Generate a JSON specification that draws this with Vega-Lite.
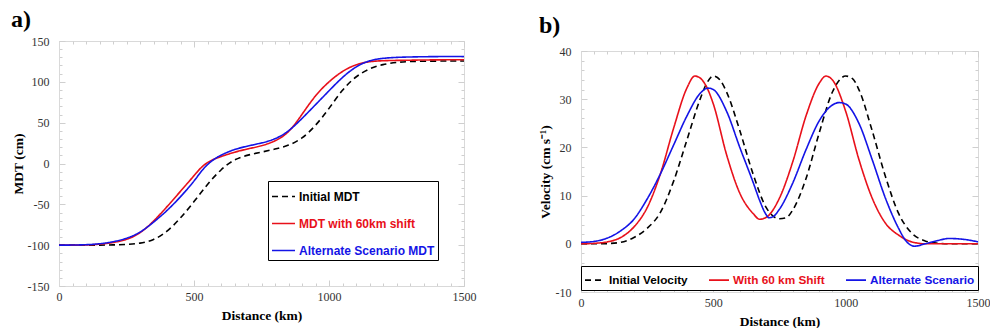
{
  "$schema": "https://vega.github.io/schema/vega-lite/v6.json",
  "background": "white",
  "padding": {"left": 10, "top": 7, "right": 0, "bottom": 0},
  "spacing": 60,
  "config": {
    "view": {"stroke": "#d9d9d9", "strokeWidth": 1},
    "axis": {
      "labelFont": "Liberation Serif", "labelFontSize": 12, "labelColor": "#333",
      "titleFont": "Liberation Serif", "titleFontSize": 13.5, "titleFontWeight": "bold", "titleColor": "#000",
      "domainColor": "#d9d9d9", "tickColor": "#cfcfcf", "grid": false, "labelFlush": false, "labelOverlap": false, "labelBound": false
    },
    "legend": {
      "labelFont": "Liberation Sans", "labelFontWeight": "bold", "labelLimit": 400,
      "symbolType": "stroke", "symbolStrokeWidth": 1.6, "strokeColor": "#000", "fillColor": "#fff", "title": null
    }
  },
  "resolve": {"scale": {"color": "independent", "strokeDash": "independent"}},
  "datasets": {
    "mdt": [
      {"d":0,"v":-100,"s":"Initial MDT"},{"d":50,"v":-100,"s":"Initial MDT"},{"d":100,"v":-100,"s":"Initial MDT"},{"d":150,"v":-100,"s":"Initial MDT"},{"d":200,"v":-99.7,"s":"Initial MDT"},{"d":250,"v":-99.2,"s":"Initial MDT"},{"d":300,"v":-98,"s":"Initial MDT"},{"d":350,"v":-94,"s":"Initial MDT"},{"d":400,"v":-84,"s":"Initial MDT"},{"d":450,"v":-67,"s":"Initial MDT"},{"d":500,"v":-47,"s":"Initial MDT"},{"d":550,"v":-25,"s":"Initial MDT"},{"d":600,"v":-7,"s":"Initial MDT"},{"d":650,"v":5.5,"s":"Initial MDT"},{"d":700,"v":10.5,"s":"Initial MDT"},{"d":750,"v":14,"s":"Initial MDT"},{"d":800,"v":17.5,"s":"Initial MDT"},{"d":850,"v":22,"s":"Initial MDT"},{"d":900,"v":30,"s":"Initial MDT"},{"d":950,"v":46,"s":"Initial MDT"},{"d":1000,"v":67,"s":"Initial MDT"},{"d":1050,"v":91,"s":"Initial MDT"},{"d":1100,"v":107,"s":"Initial MDT"},{"d":1150,"v":116.5,"s":"Initial MDT"},{"d":1200,"v":121.5,"s":"Initial MDT"},{"d":1250,"v":124,"s":"Initial MDT"},{"d":1300,"v":125,"s":"Initial MDT"},{"d":1400,"v":125.5,"s":"Initial MDT"},{"d":1500,"v":125.5,"s":"Initial MDT"},
      {"d":0,"v":-100,"s":"MDT with 60km shift"},{"d":50,"v":-100,"s":"MDT with 60km shift"},{"d":100,"v":-99.8,"s":"MDT with 60km shift"},{"d":150,"v":-99,"s":"MDT with 60km shift"},{"d":200,"v":-97,"s":"MDT with 60km shift"},{"d":250,"v":-93.5,"s":"MDT with 60km shift"},{"d":300,"v":-86,"s":"MDT with 60km shift"},{"d":350,"v":-71,"s":"MDT with 60km shift"},{"d":400,"v":-53,"s":"MDT with 60km shift"},{"d":450,"v":-34,"s":"MDT with 60km shift"},{"d":500,"v":-15,"s":"MDT with 60km shift"},{"d":525,"v":-5,"s":"MDT with 60km shift"},{"d":550,"v":1.5,"s":"MDT with 60km shift"},{"d":575,"v":5.5,"s":"MDT with 60km shift"},{"d":600,"v":8.5,"s":"MDT with 60km shift"},{"d":650,"v":14,"s":"MDT with 60km shift"},{"d":700,"v":18,"s":"MDT with 60km shift"},{"d":750,"v":21.5,"s":"MDT with 60km shift"},{"d":800,"v":27,"s":"MDT with 60km shift"},{"d":850,"v":37,"s":"MDT with 60km shift"},{"d":900,"v":60,"s":"MDT with 60km shift"},{"d":950,"v":84,"s":"MDT with 60km shift"},{"d":1000,"v":100.5,"s":"MDT with 60km shift"},{"d":1050,"v":113.5,"s":"MDT with 60km shift"},{"d":1100,"v":121.5,"s":"MDT with 60km shift"},{"d":1150,"v":125,"s":"MDT with 60km shift"},{"d":1200,"v":126,"s":"MDT with 60km shift"},{"d":1300,"v":126.5,"s":"MDT with 60km shift"},{"d":1400,"v":127,"s":"MDT with 60km shift"},{"d":1500,"v":127,"s":"MDT with 60km shift"},
      {"d":0,"v":-100,"s":"Alternate Scenario MDT"},{"d":50,"v":-99.9,"s":"Alternate Scenario MDT"},{"d":100,"v":-99.5,"s":"Alternate Scenario MDT"},{"d":150,"v":-98.5,"s":"Alternate Scenario MDT"},{"d":200,"v":-96,"s":"Alternate Scenario MDT"},{"d":250,"v":-92,"s":"Alternate Scenario MDT"},{"d":300,"v":-85,"s":"Alternate Scenario MDT"},{"d":350,"v":-72,"s":"Alternate Scenario MDT"},{"d":400,"v":-58,"s":"Alternate Scenario MDT"},{"d":450,"v":-41,"s":"Alternate Scenario MDT"},{"d":500,"v":-22,"s":"Alternate Scenario MDT"},{"d":525,"v":-10,"s":"Alternate Scenario MDT"},{"d":550,"v":-1,"s":"Alternate Scenario MDT"},{"d":575,"v":5.5,"s":"Alternate Scenario MDT"},{"d":600,"v":10.5,"s":"Alternate Scenario MDT"},{"d":650,"v":17.5,"s":"Alternate Scenario MDT"},{"d":700,"v":21.5,"s":"Alternate Scenario MDT"},{"d":750,"v":25,"s":"Alternate Scenario MDT"},{"d":800,"v":29.5,"s":"Alternate Scenario MDT"},{"d":850,"v":39,"s":"Alternate Scenario MDT"},{"d":900,"v":55,"s":"Alternate Scenario MDT"},{"d":950,"v":72,"s":"Alternate Scenario MDT"},{"d":1000,"v":89,"s":"Alternate Scenario MDT"},{"d":1050,"v":106,"s":"Alternate Scenario MDT"},{"d":1100,"v":119,"s":"Alternate Scenario MDT"},{"d":1150,"v":126.5,"s":"Alternate Scenario MDT"},{"d":1200,"v":129,"s":"Alternate Scenario MDT"},{"d":1250,"v":130,"s":"Alternate Scenario MDT"},{"d":1300,"v":130.5,"s":"Alternate Scenario MDT"},{"d":1400,"v":131,"s":"Alternate Scenario MDT"},{"d":1500,"v":131,"s":"Alternate Scenario MDT"}
    ],
    "vel": [
      {"d":0,"v":0,"s":"Initial Velocity"},{"d":50,"v":0,"s":"Initial Velocity"},{"d":100,"v":0.05,"s":"Initial Velocity"},{"d":150,"v":0.3,"s":"Initial Velocity"},{"d":200,"v":1.3,"s":"Initial Velocity"},{"d":250,"v":3.2,"s":"Initial Velocity"},{"d":300,"v":6.5,"s":"Initial Velocity"},{"d":350,"v":13,"s":"Initial Velocity"},{"d":400,"v":21.5,"s":"Initial Velocity"},{"d":450,"v":30,"s":"Initial Velocity"},{"d":475,"v":33.3,"s":"Initial Velocity"},{"d":500,"v":34.8,"s":"Initial Velocity"},{"d":525,"v":34,"s":"Initial Velocity"},{"d":550,"v":31.5,"s":"Initial Velocity"},{"d":600,"v":23.5,"s":"Initial Velocity"},{"d":650,"v":14.5,"s":"Initial Velocity"},{"d":700,"v":7.5,"s":"Initial Velocity"},{"d":750,"v":5.2,"s":"Initial Velocity"},{"d":775,"v":5.4,"s":"Initial Velocity"},{"d":800,"v":7,"s":"Initial Velocity"},{"d":850,"v":13.5,"s":"Initial Velocity"},{"d":900,"v":23,"s":"Initial Velocity"},{"d":950,"v":31.5,"s":"Initial Velocity"},{"d":1000,"v":34.8,"s":"Initial Velocity"},{"d":1025,"v":34.3,"s":"Initial Velocity"},{"d":1050,"v":32,"s":"Initial Velocity"},{"d":1100,"v":23.5,"s":"Initial Velocity"},{"d":1150,"v":14,"s":"Initial Velocity"},{"d":1200,"v":6.3,"s":"Initial Velocity"},{"d":1250,"v":2.2,"s":"Initial Velocity"},{"d":1300,"v":0.6,"s":"Initial Velocity"},{"d":1350,"v":0.1,"s":"Initial Velocity"},{"d":1400,"v":0,"s":"Initial Velocity"},{"d":1500,"v":0,"s":"Initial Velocity"},
      {"d":0,"v":0,"s":"With 60 km Shift"},{"d":50,"v":0.1,"s":"With 60 km Shift"},{"d":100,"v":0.4,"s":"With 60 km Shift"},{"d":150,"v":1.3,"s":"With 60 km Shift"},{"d":200,"v":3.5,"s":"With 60 km Shift"},{"d":250,"v":7.5,"s":"With 60 km Shift"},{"d":300,"v":14.5,"s":"With 60 km Shift"},{"d":350,"v":24,"s":"With 60 km Shift"},{"d":400,"v":32.3,"s":"With 60 km Shift"},{"d":430,"v":34.8,"s":"With 60 km Shift"},{"d":450,"v":34.4,"s":"With 60 km Shift"},{"d":475,"v":32.5,"s":"With 60 km Shift"},{"d":500,"v":29,"s":"With 60 km Shift"},{"d":550,"v":18.5,"s":"With 60 km Shift"},{"d":600,"v":10.5,"s":"With 60 km Shift"},{"d":650,"v":6.3,"s":"With 60 km Shift"},{"d":675,"v":5.1,"s":"With 60 km Shift"},{"d":700,"v":5.5,"s":"With 60 km Shift"},{"d":750,"v":9.5,"s":"With 60 km Shift"},{"d":800,"v":17,"s":"With 60 km Shift"},{"d":850,"v":26.5,"s":"With 60 km Shift"},{"d":900,"v":33.3,"s":"With 60 km Shift"},{"d":925,"v":34.8,"s":"With 60 km Shift"},{"d":950,"v":34,"s":"With 60 km Shift"},{"d":1000,"v":27.5,"s":"With 60 km Shift"},{"d":1050,"v":17.5,"s":"With 60 km Shift"},{"d":1100,"v":9.5,"s":"With 60 km Shift"},{"d":1150,"v":4.3,"s":"With 60 km Shift"},{"d":1200,"v":1.8,"s":"With 60 km Shift"},{"d":1250,"v":0.4,"s":"With 60 km Shift"},{"d":1300,"v":0,"s":"With 60 km Shift"},{"d":1400,"v":0,"s":"With 60 km Shift"},{"d":1500,"v":0,"s":"With 60 km Shift"},
      {"d":0,"v":0.3,"s":"Alternate Scenario"},{"d":50,"v":0.5,"s":"Alternate Scenario"},{"d":100,"v":1.2,"s":"Alternate Scenario"},{"d":150,"v":2.7,"s":"Alternate Scenario"},{"d":200,"v":5.1,"s":"Alternate Scenario"},{"d":250,"v":9.3,"s":"Alternate Scenario"},{"d":300,"v":14.5,"s":"Alternate Scenario"},{"d":350,"v":20.5,"s":"Alternate Scenario"},{"d":400,"v":26.5,"s":"Alternate Scenario"},{"d":450,"v":31.2,"s":"Alternate Scenario"},{"d":480,"v":32.3,"s":"Alternate Scenario"},{"d":500,"v":32,"s":"Alternate Scenario"},{"d":550,"v":27.5,"s":"Alternate Scenario"},{"d":600,"v":20,"s":"Alternate Scenario"},{"d":650,"v":12.8,"s":"Alternate Scenario"},{"d":675,"v":9,"s":"Alternate Scenario"},{"d":700,"v":6,"s":"Alternate Scenario"},{"d":710,"v":5.4,"s":"Alternate Scenario"},{"d":725,"v":5.6,"s":"Alternate Scenario"},{"d":750,"v":7.2,"s":"Alternate Scenario"},{"d":800,"v":12.6,"s":"Alternate Scenario"},{"d":850,"v":19.5,"s":"Alternate Scenario"},{"d":900,"v":25.5,"s":"Alternate Scenario"},{"d":950,"v":28.8,"s":"Alternate Scenario"},{"d":975,"v":29.3,"s":"Alternate Scenario"},{"d":1000,"v":29,"s":"Alternate Scenario"},{"d":1050,"v":25,"s":"Alternate Scenario"},{"d":1100,"v":17.5,"s":"Alternate Scenario"},{"d":1150,"v":9.5,"s":"Alternate Scenario"},{"d":1200,"v":3.2,"s":"Alternate Scenario"},{"d":1225,"v":0.8,"s":"Alternate Scenario"},{"d":1260,"v":-0.5,"s":"Alternate Scenario"},{"d":1300,"v":0,"s":"Alternate Scenario"},{"d":1350,"v":0.7,"s":"Alternate Scenario"},{"d":1390,"v":1.1,"s":"Alternate Scenario"},{"d":1450,"v":0.9,"s":"Alternate Scenario"},{"d":1500,"v":0.4,"s":"Alternate Scenario"}
    ]
  },
  "hconcat": [
    {
      "width": 405, "height": 245,
      "title": {"text": "a)", "anchor": "start", "frame": "bounds", "font": "Liberation Serif", "fontSize": 24, "fontWeight": "bold", "offset": 3},
      "data": {"name": "mdt"},
      "layer": [
        {
          "mark": {"type": "line", "interpolate": "basis", "strokeWidth": 1.6},
          "encoding": {
            "x": {"field": "d", "type": "quantitative", "scale": {"domain": [0, 1500], "nice": false},
              "axis": {"title": "Distance (km)", "format": "d", "labelFont": "Liberation Serif", "labelFontSize": 12, "titleFont": "Liberation Serif", "titleFontSize": 13.5, "titleFontWeight": "bold",
                "values": [0,50,100,150,200,250,300,350,400,450,500,550,600,650,700,750,800,850,900,950,1000,1050,1100,1150,1200,1250,1300,1350,1400,1450,1500],
                "labelExpr": "datum.value % 500 == 0 ? datum.label : ''",
                "tickSize": {"condition": {"test": "datum.value % 500 == 0", "value": -6}, "value": -3},
                "labelPadding": 11, "titlePadding": 3}},
            "y": {"field": "v", "type": "quantitative", "scale": {"domain": [-150, 150], "nice": false},
              "axis": {"title": "MDT (cm)", "format": "d", "labelFont": "Liberation Serif", "labelFontSize": 12, "titleFont": "Liberation Serif", "titleFontSize": 13.5, "titleFontWeight": "bold",
                "values": [-150,-140,-130,-120,-110,-100,-90,-80,-70,-60,-50,-40,-30,-20,-10,0,10,20,30,40,50,60,70,80,90,100,110,120,130,140,150],
                "labelExpr": "datum.value % 50 == 0 ? replace(datum.label, '−', '-') : ''",
                "tickSize": {"condition": {"test": "datum.value % 50 == 0", "value": -6}, "value": -3},
                "labelPadding": 16, "titlePadding": 2}},
            "color": {"field": "s", "type": "nominal",
              "scale": {"domain": ["Initial MDT", "MDT with 60km shift", "Alternate Scenario MDT"], "range": ["#000000", "#e8101a", "#1414e6"]},
              "legend": {"orient": "none", "legendX": 209, "legendY": 140, "direction": "vertical", "padding": 3, "rowPadding": 8, "symbolSize": 529, "labelOffset": 3, "labelFontSize": 12,
                "labelColor": {"expr": "datum.label == 'Initial MDT' ? '#000000' : (datum.label == 'MDT with 60km shift' ? '#e8101a' : '#1414e6')"}}},
            "strokeDash": {"field": "s", "type": "nominal",
              "scale": {"domain": ["Initial MDT", "MDT with 60km shift", "Alternate Scenario MDT"], "range": [[6, 4], [1, 0], [1, 0]]}}
          }
        },
        {
          "mark": {"type": "line", "opacity": 0},
          "encoding": {
            "x": {"field": "d", "type": "quantitative",
              "axis": {"orient": "top", "title": null, "labels": false, "domain": false, "values": [0,50,100,150,200,250,300,350,400,450,500,550,600,650,700,750,800,850,900,950,1000,1050,1100,1150,1200,1250,1300,1350,1400,1450,1500],
                "tickSize": {"condition": {"test": "datum.value % 500 == 0", "value": -6}, "value": -3}}},
            "y": {"field": "v", "type": "quantitative",
              "axis": {"orient": "right", "title": null, "labels": false, "domain": false, "values": [-150,-140,-130,-120,-110,-100,-90,-80,-70,-60,-50,-40,-30,-20,-10,0,10,20,30,40,50,60,70,80,90,100,110,120,130,140,150],
                "tickSize": {"condition": {"test": "datum.value % 50 == 0", "value": -6}, "value": -3}}}
          }
        }
      ],
      "resolve": {"axis": {"x": "independent", "y": "independent"}}
    },
    {
      "resolve": {"scale": {"color": "independent", "strokeDash": "independent"}},
      "spacing": 2,
      "vconcat": [
        {
          "width": 397, "height": 1,
          "view": {"stroke": null},
          "title": {"text": "b)", "anchor": "start", "frame": "group", "dx": -42, "font": "Liberation Serif", "fontSize": 24, "fontWeight": "bold", "offset": 3},
          "data": {"values": [{"k": 1}]},
          "mark": {"type": "rule", "opacity": 0},
          "encoding": {}
        },
        {
          "width": 397, "height": 241,
          "data": {"name": "vel"},
          "layer": [
            {
              "mark": {"type": "line", "interpolate": "monotone", "strokeWidth": 1.6},
              "encoding": {
                "x": {"field": "d", "type": "quantitative", "scale": {"domain": [0, 1500], "nice": false},
                  "axis": {"title": "Distance (km)", "format": "d", "labelFont": "Liberation Serif", "labelFontSize": 12, "titleFont": "Liberation Serif", "titleFontSize": 13.5, "titleFontWeight": "bold",
                    "values": [0,50,100,150,200,250,300,350,400,450,500,550,600,650,700,750,800,850,900,950,1000,1050,1100,1150,1200,1250,1300,1350,1400,1450,1500],
                    "labelExpr": "datum.value % 500 == 0 ? datum.label : ''",
                    "tickSize": {"condition": {"test": "datum.value % 500 == 0", "value": -6}, "value": -3},
                    "labelPadding": 11, "titlePadding": 3}},
                "y": {"field": "v", "type": "quantitative", "scale": {"domain": [-10, 40], "nice": false},
                  "axis": {"title": "Velocity (cm s⁻¹)", "format": "d", "labelFont": "Liberation Serif", "labelFontSize": 12, "titleFont": "Liberation Serif", "titleFontSize": 13.5, "titleFontWeight": "bold",
                    "values": [-10,-8,-6,-4,-2,0,2,4,6,8,10,12,14,16,18,20,22,24,26,28,30,32,34,36,38,40],
                    "labelExpr": "datum.value % 10 == 0 ? replace(datum.label, '−', '-') : ''",
                    "tickSize": {"condition": {"test": "datum.value % 10 == 0", "value": -6}, "value": -3},
                    "labelPadding": 16, "titlePadding": 3}},
                "color": {"field": "s", "type": "nominal",
                  "scale": {"domain": ["Initial Velocity", "With 60 km Shift", "Alternate Scenario"], "range": ["#000000", "#e8101a", "#1414e6"]},
                  "legend": {"orient": "none", "legendX": 0, "legendY": 215, "direction": "horizontal", "columns": 3, "padding": 3, "columnPadding": 17, "symbolSize": 400, "labelOffset": 3, "labelFontSize": 11.8,
                    "labelColor": {"expr": "datum.label == 'Initial Velocity' ? '#000000' : (datum.label == 'With 60 km Shift' ? '#e8101a' : '#1414e6')"}}},
                "strokeDash": {"field": "s", "type": "nominal",
                  "scale": {"domain": ["Initial Velocity", "With 60 km Shift", "Alternate Scenario"], "range": [[6, 4], [1, 0], [1, 0]]}}
              }
            },
            {
              "mark": {"type": "line", "opacity": 0},
              "encoding": {
                "x": {"field": "d", "type": "quantitative",
                  "axis": {"orient": "top", "title": null, "labels": false, "domain": false, "values": [0,50,100,150,200,250,300,350,400,450,500,550,600,650,700,750,800,850,900,950,1000,1050,1100,1150,1200,1250,1300,1350,1400,1450,1500],
                    "tickSize": {"condition": {"test": "datum.value % 500 == 0", "value": -6}, "value": -3}}},
                "y": {"field": "v", "type": "quantitative",
                  "axis": {"orient": "right", "title": null, "labels": false, "domain": false, "values": [-10,-8,-6,-4,-2,0,2,4,6,8,10,12,14,16,18,20,22,24,26,28,30,32,34,36,38,40],
                    "tickSize": {"condition": {"test": "datum.value % 10 == 0", "value": -6}, "value": -3}}}
              }
            }
          ],
          "resolve": {"axis": {"x": "independent", "y": "independent"}}
        }
      ]
    }
  ]
}
